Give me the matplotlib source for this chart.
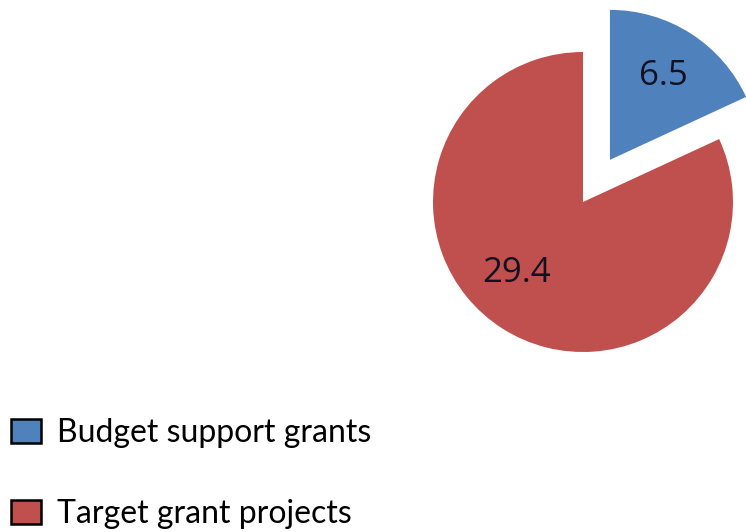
import matplotlib.pyplot as plt
from matplotlib.patches import Patch

# Grant breakdown
categories = ['Budget support grants', 'Target grant projects']
values = [6.5, 29.4]
colors = ['#4F81BD', '#C0504D']

fig = plt.figure(figsize=(7.46, 5.32), dpi=100)
ax = fig.add_axes([0, 0, 1, 1])

wedges, texts, autotexts = ax.pie(
    values, colors=colors, startangle=90, counterclock=False,
    center=(583, 330), radius=150, explode=[50, 0],
    autopct=lambda p: f'{p * sum(values) / 100:.1f}', pctdistance=0.66,
    textprops=dict(fontsize=25, color='#111122', family='Open Sans'),
    wedgeprops=dict(linewidth=0), frame=True,
)
ax.set_xlim(0, 746)
ax.set_ylim(0, 532)
ax.set_aspect('equal')
ax.axis('off')
autotexts[1].set_position((517, 259))

handles = [Patch(facecolor=c, edgecolor='black', linewidth=1.8) for c in colors]
fig.legend(handles, categories, loc='upper left', bbox_to_anchor=(11 / 746, 114 / 532),
           frameon=False, prop=dict(family='Lato', size=23),
           borderpad=0, borderaxespad=0,
           handlelength=0.95, handleheight=0.75, handletextpad=0.5,
           labelspacing=1.6)

fig.savefig('out.png', dpi=100)
